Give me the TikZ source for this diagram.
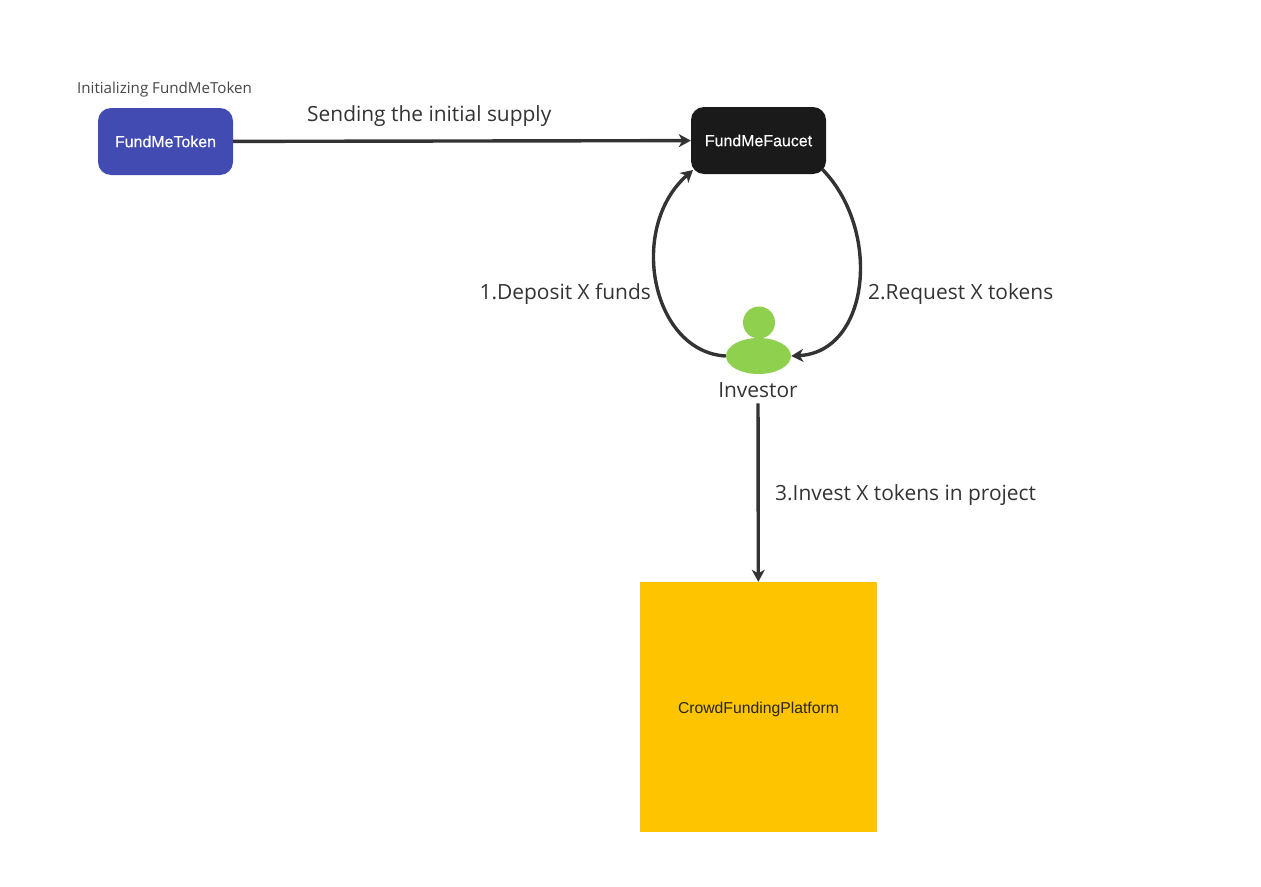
\documentclass[tikz,border=0pt]{standalone}
\usepackage{fontspec}
\setmainfont{Open Sans}
\newfontfamily\boxfont{Liberation Sans}
\newfontfamily\whitefont[FakeBold=0.4]{Liberation Sans}
\usetikzlibrary{arrows.meta,shapes.geometric}
\definecolor{tokenblue}{HTML}{414BB2}
\definecolor{faucetblack}{HTML}{1A1A1A}
\definecolor{investorgreen}{HTML}{8FD14F}
\definecolor{platformyellow}{HTML}{FFC400}
\definecolor{linegray}{HTML}{333333}
\tikzset{
    contract/.style={rounded corners=13bp, minimum width=135bp, minimum height=67bp, inner sep=0pt, text=white, font=\whitefont\fontsize{16}{19}\selectfont},
    flow/.style={draw=linegray, line width=3.4bp, -{Stealth[length=12bp,width=13bp,inset=3.5bp]}},
    label/.style={text=linegray, inner sep=0pt, font=\fontsize{21}{25}\selectfont}
}
\begin{document}
\begin{tikzpicture}[x=1bp,y=-1bp]
        \useasboundingbox (0,0) rectangle (1261,887);
        \fill[white] (0,0) rectangle (1261,887);

        % Boxes
        \node[contract, fill=tokenblue] (token) at (165.5,141.5) {FundMeToken};
        \node[contract, fill=faucetblack] (faucet) at (758.5,140.5) {FundMeFaucet};
        \node[fill=platformyellow, minimum width=237bp, minimum height=250bp, inner sep=0pt, text height=16bp, text=black!85, font=\boxfont\fontsize{15.8}{19}\selectfont] (platform) at (758.5,707) {CrowdFundingPlatform};

        % Investor
        \node[circle, fill=investorgreen, minimum size=32bp, inner sep=0pt] (head) at (759,322.5) {};
        \node[ellipse, fill=investorgreen, minimum width=65bp, minimum height=36bp, inner sep=0pt] (body) at (758.5,356) {};
        \node[label, inner ysep=5.5bp] (investor) at (758,390) {Investor};

        % Free ends on the rounded corners
        \coordinate (faucetin) at (693,170);
        \coordinate (faucetout) at (822,169);

        % Connectors
        \draw[flow] (token) -- (faucet);
        \draw[flow] (body.west) .. controls (652,352) and (627,228) .. (faucetin);
        \draw[flow] (faucetout) .. controls (882,230) and (870,352) .. (body.east);
        \draw[flow] (investor) -- (platform);

        % Labels
        \node[label, text=linegray!90, font=\fontsize{15.2}{18}\selectfont, anchor=west] (initlabel) at (77,90) {Initializing FundMeToken};
        \node[label, anchor=west] (supplylabel) at (307,116) {Sending the initial supply};
        \node[label, anchor=east] (depositlabel) at (651,294) {1.Deposit X funds};
        \node[label, anchor=west] (requestlabel) at (868,294) {2.Request X tokens};
        \node[label, anchor=west] (investlabel) at (775,495) {3.Invest X tokens in project};
    \end{tikzpicture}
\end{document}
